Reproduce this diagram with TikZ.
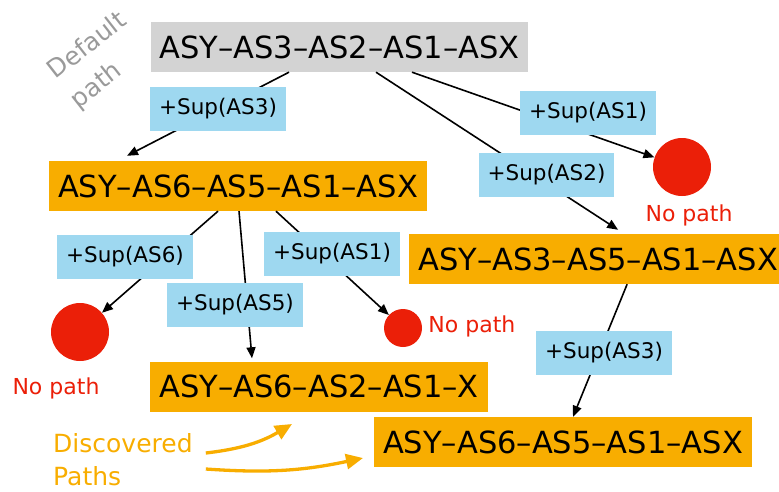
\documentclass[tikz,border=0pt]{standalone}
\usepackage{fontspec}
\setmainfont{DejaVu Sans}
\usepackage{xcolor}
\usetikzlibrary{positioning,arrows.meta}

\definecolor{dfltgray}{HTML}{D3D3D3}
\definecolor{found}{HTML}{F8AD00}
\definecolor{suplab}{HTML}{9ED8F0}
\definecolor{nopath}{HTML}{EB1F08}
\definecolor{dflttext}{HTML}{9A9A9A}

\tikzset{
  route/.style={fill=#1, inner xsep=9pt, inner ysep=0pt, minimum height=50pt,
    font=\fontsize{30.5}{36}\selectfont},
  route/.default=found,
  sup/.style={fill=suplab, inner xsep=9pt, inner ysep=0pt, minimum height=44pt,
    font=\fontsize{21.5}{26}\selectfont},
  deadend/.style={circle, fill=nopath, inner sep=0pt, minimum size=#1},
  deadtxt/.style={text=nopath, inner sep=0pt, font=\fontsize{22}{26}\selectfont},
  link/.style={draw, line width=1.6pt, -{Triangle[length=11pt,width=9pt]}},
  hint/.style={draw=found, line width=3.3pt, -{Triangle[length=17pt,width=15pt]}},
}

\begin{document}
\begin{tikzpicture}[x=1pt,y=-1pt]
  \useasboundingbox (0,0) rectangle (779,491);
  % Define nodes
  \node[route=dfltgray] (dflt) at (339.5,47) {ASY--AS3--AS2--AS1--ASX};
  \node[route] (p651) at (238,186) {ASY--AS6--AS5--AS1--ASX};
  \node[route, anchor=west] (p351) at (409,259) {ASY--AS3--AS5--AS1--ASX};
  \node[route] (p621) at (319,386.5) {ASY--AS6--AS2--AS1--X};
  \node[route] (p651b) at (563,442) {ASY--AS6--AS5--AS1--ASX};
  \node[deadend=58pt] (dotA) at (682,167) {};
  \node[deadend=58pt] (dotB) at (80,332) {};
  \node[deadend=38pt] (dotC) at (403,328) {};
  \node[deadtxt, below=8pt of dotA, xshift=7pt] (npA) {No path};
  \node[deadtxt, below=16pt of dotB, xshift=-24pt] (npB) {No path};
  \node[deadtxt, right=6pt of dotC, yshift=2pt] (npC) {No path};
  \node[rotate=38, align=left, text=dflttext, inner sep=0pt,
    font=\fontsize{25}{37}\selectfont] (dlbl) at (99,61) {Default\\path};
  \node[text=found, align=left, anchor=west, inner sep=0pt,
    font=\fontsize{25}{33}\selectfont] (disc) at (53,460) {Discovered\\Paths};
  % Connectors
  \draw[link] ([xshift=-50.5pt]dflt.south) -- ([xshift=-111pt,yshift=5pt]p651.north);
  \draw[link] ([xshift=36.5pt]dflt.south) -- ([xshift=20pt,yshift=4pt]p351.north);
  \draw[link] ([xshift=72.5pt]dflt.south) -- (dotA);
  \draw[link] ([xshift=-20pt]p651.south) -- (dotB);
  \draw[link] ([xshift=1pt]p651.south) -- ([xshift=-67pt,yshift=3pt]p621.north);
  \draw[link] ([xshift=38pt]p651.south) -- (dotC);
  \draw[link] ([xshift=29pt]p351.south) -- ([xshift=10pt]p651b.north);
  % Labels on the connectors
  \node[sup] (s3a) at (218,109) {+Sup(AS3)};
  \node[sup] (s1a) at (588,113) {+Sup(AS1)};
  \node[sup] (s2) at (546.5,175) {+Sup(AS2)};
  \node[sup] (s6) at (125,257) {+Sup(AS6)};
  \node[sup] (s5) at (235,305) {+Sup(AS5)};
  \node[sup] (s1b) at (332,254) {+Sup(AS1)};
  \node[sup] (s3b) at (604,353) {+Sup(AS3)};
  % Discovered paths
  \coordinate (h1s) at ([xshift=13pt,yshift=7pt]disc.east);
  \coordinate (h2s) at ([xshift=13pt,yshift=-9pt]disc.east);
  \coordinate (h1e) at (292,424);
  \coordinate (h2e) at (363,458);
  \draw[hint] (h1s) to[bend right=12] (h1e);
  \draw[hint] (h2s) to[bend right=8] (h2e);
\end{tikzpicture}
\end{document}
